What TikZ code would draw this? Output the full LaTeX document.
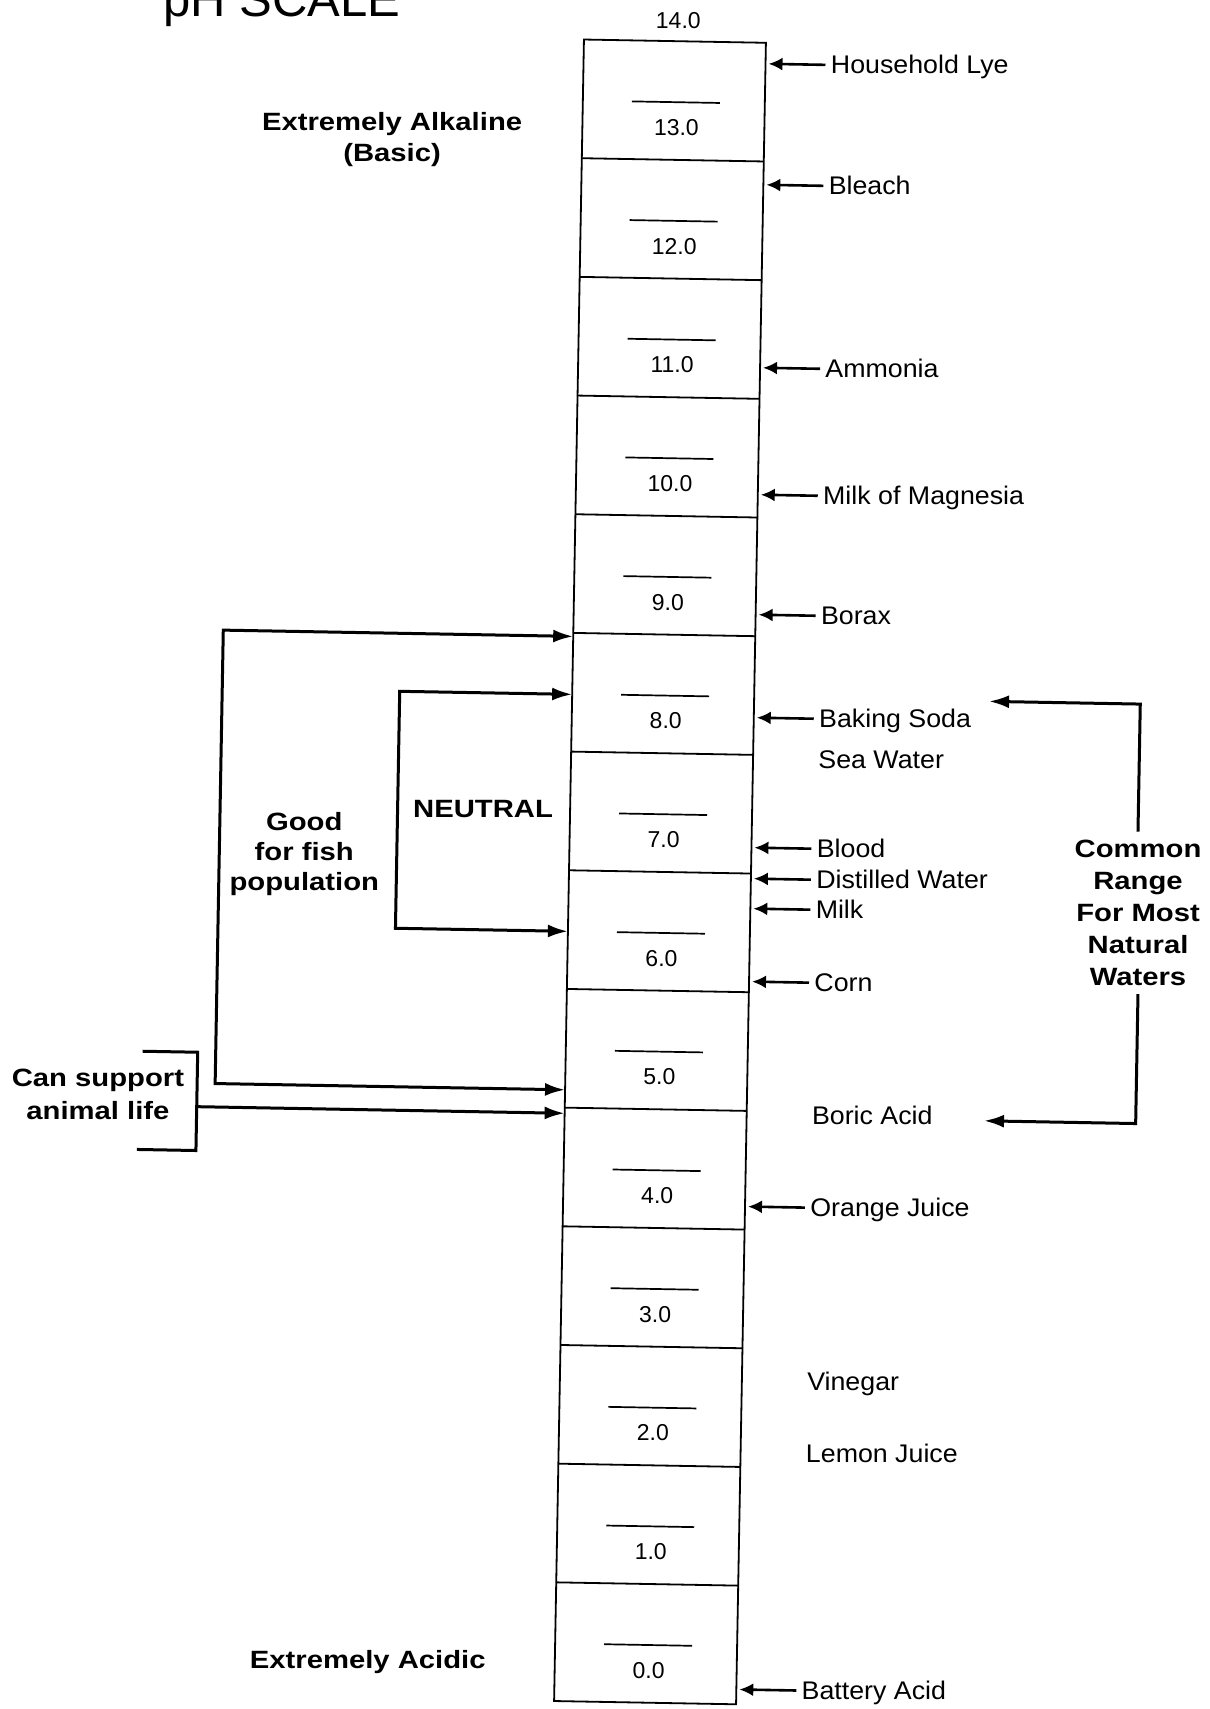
\documentclass[tikz,border=0pt]{standalone}
\usepackage{fontspec}
\setmainfont{Liberation Sans}
\newfontfamily\lblfont{Liberation Sans}[FakeStretch = 1.05]
\newfontfamily\hvyfont{Liberation Sans}[FakeStretch = 1.17]
\usetikzlibrary{arrows.meta}
\begin{document}
\begin{tikzpicture}[x = .5pt, y = -.5pt,
    sample/.style = {anchor = west, inner xsep = 2.5pt, inner ysep = 0pt,
      text height = 9.1pt, text depth = 0pt,
      font = \lblfont\fontsize{12.75}{15}\selectfont},
    val/.style = {inner sep = 0pt, text height = 8.2pt, text depth = 0pt,
      font = \fontsize{11.5}{13}\selectfont},
    remark/.style = {align = center, inner sep = 0pt,
      font = \hvyfont\bfseries\fontsize{12.5}{14.5}\selectfont},
    ptr/.style = {-{Latex[length = 7pt, width = 6.5pt]}, line width = 1.3pt,
      shorten > = 1.5pt},
    brk/.style = {{Latex[length = 10pt, width = 6.5pt]}-{Latex[length = 10pt, width = 6.5pt]},
      line width = 1.5pt},
    brkptr/.style = {-{Latex[length = 10pt, width = 6.5pt]}, line width = 1.5pt}]
  \useasboundingbox (0, 0) rectangle (1210, 1709);
  \begin{scope}[rotate around = {-1.03:(660, 872)}]
  \node[anchor = base west, inner sep = 0pt, font = \fontsize{24.5}{28}\selectfont]
    (title) at (148, 25.4) {pH SCALE};
  \draw[line width = .9pt] (569, 41) rectangle (751, 1702.8);
  \node[val] (v14) at (663, 20) {14.0};
  \foreach \i in {0, ..., 13} {
    \pgfmathtruncatemacro{\v}{13 - \i}
    \ifnum\i>0
      \draw[line width = .9pt] (569, {41 + 118.7*\i}) --++ (182, 0);
    \fi
    \draw[line width = .85pt] (618, {41 + 118.7*\i + 61}) --++ (88, 0);
    \node[val] (v\v) at (663, {41 + 118.7*\i + 86}) {\v.0};
  }
  \foreach \n/\y/\t in {lye/62/Household Lye, bleach/183/Bleach,
      ammonia/366/Ammonia, magnesia/493/Milk of Magnesia, borax/613/Borax,
      soda/716/Baking Soda, blood/846/Blood, distilled/877/Distilled Water,
      milk/907/Milk, corn/980/Corn, orange/1205/Orange Juice,
      battery/1688/Battery Acid} {
    \node[sample] (\n) at (811, \y) {\t};
    \coordinate (tip\n) at (751, \y);
    \draw[ptr] (\n.west) -- (tip\n);
  }
  \foreach \n/\y/\t in {seawater/757/Sea Water, boric/1113/Boric Acid,
      vinegar/1379/Vinegar, lemon/1451/Lemon Juice}
    \node[sample] (\n) at (811, \y) {\t};
  \node[remark] (alkaline) at (379, 144.6)
    {Extremely Alkaline\\[1.25pt](Basic)};
  \node[remark] (fish) at (304, 860.4) {Good\\[.5pt]for fish\\[.5pt]population};
  \node[remark] (neutral) at (482, 812.6) {NEUTRAL};
  \node[remark] (life) at (102, 1104.5) {Can support\\[2pt]animal life};
  \node[remark] (acidic) at (382, 1667.6) {Extremely Acidic};
  \node[remark, inner sep = 4pt] (common) at (1138.7, 904.4)
    {Common\\[1.5pt]Range\\[1.5pt]For Most\\[1.5pt]Natural\\[1.5pt]Waters};
  \coordinate (fishhi) at (569, 638);
  \coordinate (fishlo) at (569, 1091.5);
  \coordinate (neuthi) at (569, 696);
  \coordinate (neutlo) at (569, 933);
  \coordinate (lifebar) at (201, 1115);
  \coordinate (lifelo) at (569, 1115);
  \coordinate (rangehi) at (986, 695.5);
  \coordinate (rangelo) at (988.5, 1115);
  \draw[brk] (fishhi) -- (219, 638) -- (219, 1091.5) -- (fishlo);
  \draw[brk] (neuthi) -- (396.5, 696) -- (396.5, 933) -- (neutlo);
  \draw[line width = 1.5pt] (146, 1060.5) -- (201, 1060.5) -- (201, 1158.8)
    -- (142, 1158.8);
  \draw[brkptr] (lifebar) -- (lifelo);
  \draw[brkptr] (common.north) |- (rangehi);
  \draw[brkptr] (common.south) |- (rangelo);
  \end{scope}
\end{tikzpicture}
\end{document}
